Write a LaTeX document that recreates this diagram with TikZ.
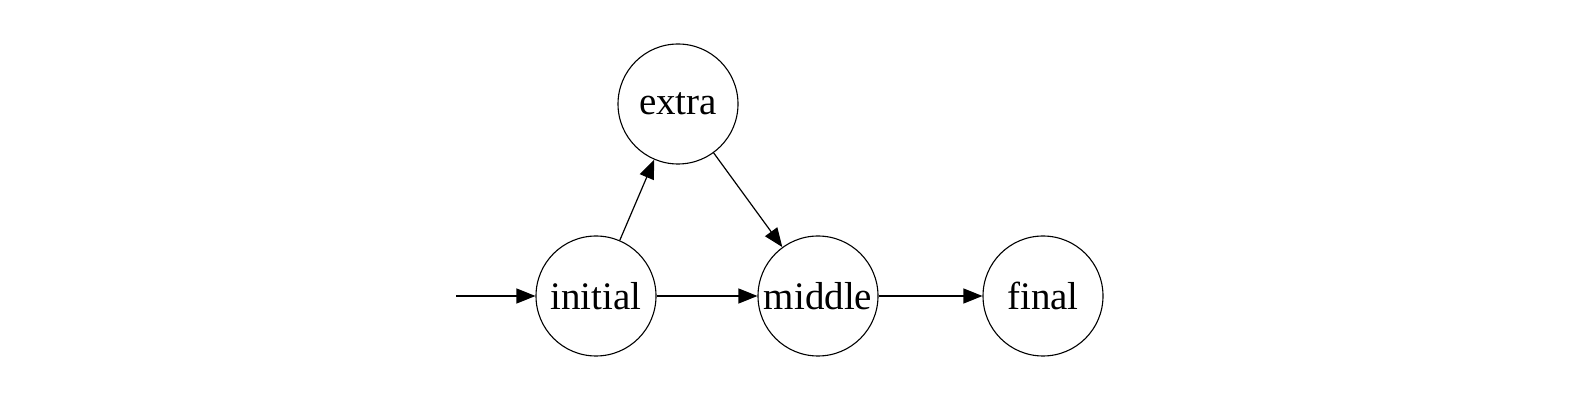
\documentclass[tikz,border=0pt]{standalone}
\usepackage{fontspec}
\setmainfont{Liberation Serif}
\usetikzlibrary{arrows.meta}
\begin{document}
\begin{tikzpicture}[x=0.5pt,y=-0.5pt,
  state/.style={circle,draw,line width=0.55pt,minimum size=60pt,inner sep=0pt,font=\fontsize{19.5pt}{22pt}\selectfont},
  edge/.style={line width=0.6pt,-{Triangle[length=9.5pt,width=7.5pt]}}]
\useasboundingbox (0,0) rectangle (1579,416);
\node[state] (initial) at (596,296) {initial};
\node[state] (extra) at (678,104) {extra};
\node[state] (middle) at (818,296) {middle};
\node[state] (final) at (1043,296) {final};
\coordinate (start) at (456,296);
\draw[edge] (start) -- (initial);
\draw[edge] (initial) -- (extra);
\draw[edge] (extra) -- (middle);
\draw[edge] (initial) -- (middle);
\draw[edge] (middle) -- (final);
\end{tikzpicture}
\end{document}
